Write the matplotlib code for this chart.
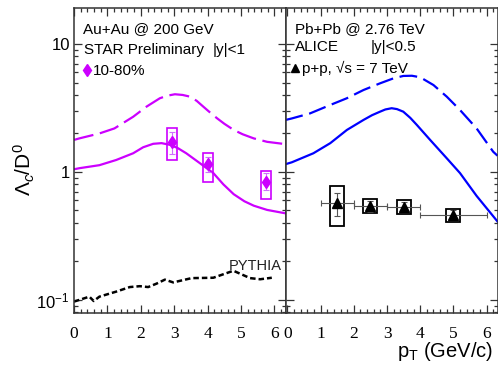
import matplotlib
matplotlib.use('Agg')
import matplotlib.pyplot as plt
from matplotlib.ticker import MultipleLocator, LogLocator, FuncFormatter, NullFormatter
from matplotlib.patches import Rectangle
from matplotlib.lines import Line2D

plt.rcParams['font.family'] = ['Liberation Sans', 'DejaVu Sans']
plt.rcParams['mathtext.fontset'] = 'custom'
plt.rcParams['mathtext.rm'] = 'Liberation Sans'
plt.rcParams['mathtext.it'] = 'Liberation Sans:italic'

MAG = '#cc00ff'
BLUE = '#0000ff'

# STAR Au+Au 200 GeV, model curves
au_dash_x = [0.0, 0.16, 0.76, 1.21, 1.77, 2.17, 2.57, 2.8, 3.02, 3.25, 3.47, 3.67, 3.87, 4.05, 4.28, 4.5, 4.78, 5.05, 5.38, 5.78, 6.33]
au_dash_y = [1.78, 1.83, 2.0, 2.19, 2.70, 3.24, 3.77, 3.95, 4.05, 4.0, 3.88, 3.6, 3.24, 2.95, 2.63, 2.38, 2.13, 1.97, 1.83, 1.72, 1.65]
au_solid_x = [0.0, 0.16, 0.76, 1.26, 1.77, 2.07, 2.37, 2.62, 2.87, 3.1, 3.36, 3.77, 4.17, 4.47, 4.78, 5.1, 5.38, 5.78, 6.33]
au_solid_y = [1.05, 1.07, 1.13, 1.24, 1.40, 1.56, 1.66, 1.68, 1.63, 1.54, 1.40, 1.17, 0.98, 0.80, 0.67, 0.59, 0.545, 0.505, 0.475]

# PYTHIA
py_x = [0.0, 0.46, 0.59, 0.76, 1.26, 1.67, 1.97, 2.22, 2.47, 2.72, 2.97, 3.52, 4.17, 4.77, 5.27, 5.57, 5.92]
py_y = [0.097, 0.106, 0.098, 0.106, 0.116, 0.126, 0.128, 0.126, 0.134, 0.144, 0.137, 0.148, 0.149, 0.169, 0.148, 0.145, 0.149]

# STAR data
star_x = [2.92, 4.02, 5.75]
star_y = [1.71, 1.15, 0.84]
star_lo = [1.38, 1.00, 0.72]
star_hi = [2.07, 1.30, 0.975]
star_sys_lo = [1.24, 0.83, 0.615]
star_sys_hi = [2.20, 1.40, 1.02]
star_box_w = 0.15

# ALICE Pb+Pb 2.76 TeV, model curves
pb_dash_x = [-0.06, 0.13, 0.68, 1.29, 1.79, 2.29, 2.79, 3.2, 3.49, 3.75, 4.0, 4.4, 4.8, 5.2, 5.7, 6.2, 6.33]
pb_dash_y = [2.55, 2.62, 2.87, 3.34, 3.77, 4.37, 4.93, 5.4, 5.63, 5.65, 5.5, 4.78, 3.88, 3.05, 2.19, 1.44, 1.34]
pb_solid_x = [-0.06, 0.13, 0.78, 1.29, 1.79, 2.29, 2.55, 2.79, 2.95, 3.14, 3.3, 3.49, 3.7, 3.9, 4.3, 4.8, 5.2, 5.7, 6.33]
pb_solid_y = [1.15, 1.19, 1.40, 1.68, 2.13, 2.55, 2.78, 2.96, 3.08, 3.15, 3.1, 2.96, 2.65, 2.33, 1.78, 1.28, 0.98, 0.65, 0.41]

# ALICE p+p 7 TeV
pp_x = [1.5, 2.5, 3.5, 5.0]
pp_xerr = [0.5, 0.5, 0.5, 1.0]
pp_y = [0.57, 0.54, 0.535, 0.46]
pp_lo = [0.45, 0.49, 0.49, 0.43]
pp_hi = [0.69, 0.59, 0.58, 0.50]
pp_sys_lo = [0.38, 0.475, 0.47, 0.41]
pp_sys_hi = [0.77, 0.61, 0.60, 0.51]
pp_box_w = 0.21

fig = plt.figure(figsize=(4.98, 3.69), dpi=100)
bot = 1 - 313 / 369
h = 305.5 / 369
ax1 = fig.add_axes([74 / 498, bot, 211.5 / 498, h])
ax2 = fig.add_axes([285.5 / 498, bot, 212 / 498, h])

for ax in (ax1, ax2):
    ax.set_yscale('log')
    ax.set_ylim(0.079, 19.3)
    ax.xaxis.set_major_locator(MultipleLocator(1))
    ax.xaxis.set_minor_locator(MultipleLocator(0.2))
    ax.yaxis.set_major_locator(LogLocator(base=10))
    ax.yaxis.set_minor_locator(LogLocator(base=10, subs=range(2, 10)))
    ax.yaxis.set_minor_formatter(NullFormatter())
    ax.tick_params(which='both', direction='in', top=True, right=True, width=0.9, colors='#333333')
    ax.tick_params(which='major', length=6)
    ax.tick_params(which='minor', length=3)
    ax.tick_params(axis='x', labelsize=12.5, pad=9, labelfontfamily='Liberation Serif', labelcolor='black')
    for s in ax.spines.values():
        s.set_linewidth(1.1)
        s.set_color('#333333')

ax1.set_xlim(0, 6.33)
ax2.set_xlim(-0.06, 6.33)
ticklab = {10.0: '10', 1.0: '1', 0.1: '10$^{-1}$'}
ax1.yaxis.set_major_formatter(FuncFormatter(lambda v, p: ticklab.get(round(v, 3), '')))
ax1.tick_params(axis='y', labelsize=12, pad=3, labelcolor='black')
ax2.tick_params(axis='y', labelleft=False)

# left panel
ax1.plot(au_dash_x, au_dash_y, color=MAG, lw=1.6, dashes=(9, 3))
ax1.plot(au_solid_x, au_solid_y, color=MAG, lw=1.6)
ax1.plot(py_x, py_y, color='black', lw=1.8, dashes=(2.2, 1.2))
for x, lo, hi in zip(star_x, star_sys_lo, star_sys_hi):
    ax1.add_patch(Rectangle((x - star_box_w, lo), 2 * star_box_w, hi - lo, fill=False, ec=MAG, lw=1.2))
ax1.errorbar(star_x, star_y,
             yerr=[[y - l for y, l in zip(star_y, star_lo)], [hh - y for y, hh in zip(star_y, star_hi)]],
             fmt='d', color=MAG, ms=6, ecolor='#d070ff', elinewidth=0.8, capsize=2, capthick=0.8)
ax1.text(4.62, 0.171, 'PYTHIA', fontsize=10.5, color='#222222')
ax1.text(0.043, 0.917, 'Au+Au @ 200 GeV', transform=ax1.transAxes, fontsize=11)
ax1.text(0.048, 0.848, 'STAR Preliminary', transform=ax1.transAxes, fontsize=11)
ax1.text(0.657, 0.848, '|y|<1', transform=ax1.transAxes, fontsize=11)
ax1.legend(handles=[Line2D([], [], marker='d', color=MAG, ls='none', ms=6)], labels=['10-80%'],
           loc='upper left', bbox_to_anchor=(0.02, 0.83), frameon=False, fontsize=11,
           handlelength=0.5, handletextpad=0.15, borderaxespad=0.0, borderpad=0.3)
ax1.set_ylabel(r'$\Lambda_{c}$/D$^{0}$', fontsize=15)
ax1.yaxis.set_label_coords(-0.175, 0.47)

# right panel
ax2.plot(pb_dash_x, pb_dash_y, color=BLUE, lw=1.6, dashes=(8, 3))
ax2.plot(pb_solid_x, pb_solid_y, color=BLUE, lw=1.6)
for x, lo, hi in zip(pp_x, pp_sys_lo, pp_sys_hi):
    ax2.add_patch(Rectangle((x - pp_box_w, lo), 2 * pp_box_w, hi - lo, fill=False, ec='black', lw=1.3))
ax2.errorbar(pp_x, pp_y, xerr=pp_xerr,
             yerr=[[y - l for y, l in zip(pp_y, pp_lo)], [hh - y for y, hh in zip(pp_y, pp_hi)]],
             fmt='^', color='black', ms=7, ecolor='#555555', elinewidth=0.8, capsize=2, capthick=0.8)
ax2.text(0.045, 0.917, 'Pb+Pb @ 2.76 TeV', transform=ax2.transAxes, fontsize=11)
ax2.text(0.045, 0.856, 'ALICE', transform=ax2.transAxes, fontsize=11)
ax2.text(0.40, 0.856, '|y|<0.5', transform=ax2.transAxes, fontsize=11)
ax2.legend(handles=[Line2D([], [], marker='^', color='black', ls='none', ms=6)], labels=['p+p, √s = 7 TeV'],
           loc='upper left', bbox_to_anchor=(0.0, 0.84), frameon=False, fontsize=11,
           handlelength=0.6, handletextpad=0.2, borderaxespad=0.0, borderpad=0.3)
ax2.set_xlabel(r'p$_{\mathrm{T}}$ (GeV/c)', fontsize=14.5, ha='right')
ax2.xaxis.set_label_coords(0.98, -0.09)

fig.savefig('out.png', dpi=100)
